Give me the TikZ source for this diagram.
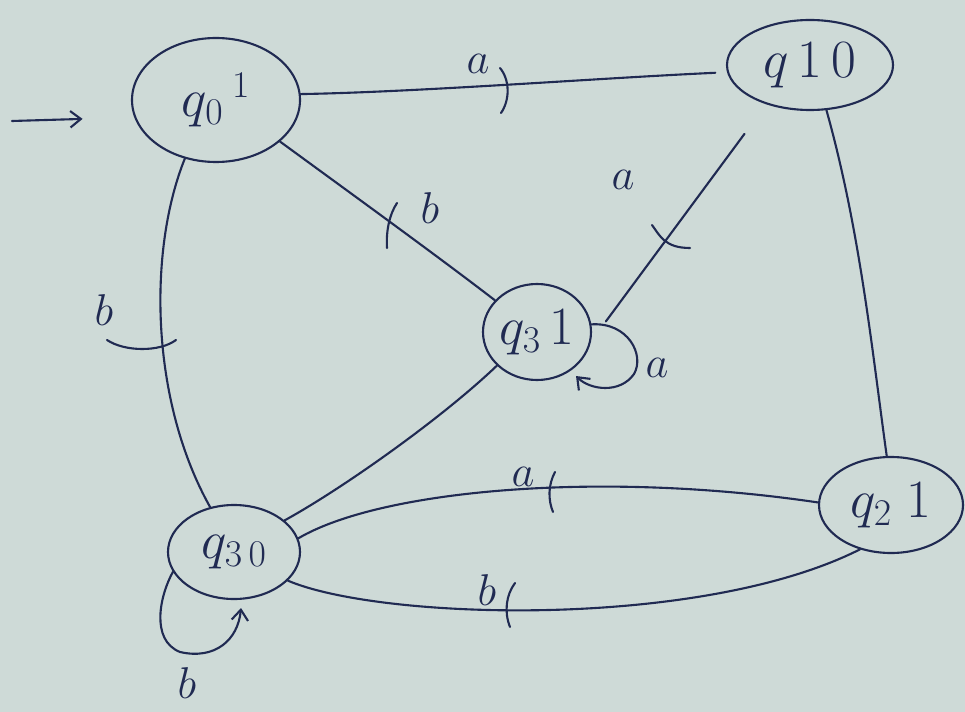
\RequirePackage{fix-cm}
\documentclass[tikz,border=0pt]{standalone}
\usetikzlibrary{shapes.geometric,arrows.meta}
\definecolor{paper}{RGB}{206,218,215}
\definecolor{inkblue}{RGB}{32,42,82}
\begin{document}
\begin{tikzpicture}[x=0.03cm,y=-0.03cm,
  ink/.style={draw=inkblue,line width=1.8pt,line cap=round,line join=round},
  state/.style={ellipse,ink,inner sep=0pt,text=inkblue,font=\fontsize{46}{52}\selectfont},
  lbl/.style={text=inkblue,font=\fontsize{38}{42}\selectfont},
  tip/.style={-{Straight Barb[length=9pt,width=14pt,line width=1.8pt]}}]
% paper
\fill[paper] (0,0) rectangle (965,712);
\useasboundingbox (0,0) rectangle (965,712);

% states (Moore machine: state, output)
\node[state,minimum width=5.04cm,minimum height=3.72cm] (q0)  at (216,100) {$q_0\,{}^{1}$};
\node[state,minimum width=4.98cm,minimum height=2.70cm] (q10) at (810,65)  {$q\,1\,0$};
\node[state,minimum width=3.24cm,minimum height=2.88cm] (q31) at (537,332) {$q_3\,1$};
\node[state,minimum width=4.32cm,minimum height=2.88cm] (q21) at (891,505) {$q_2\;1$};
\node[state,minimum width=3.96cm,minimum height=2.82cm] (q30) at (234,552) {$q_{3\,0}$};

% start arrow
\coordinate (start) at (12,121);
\draw[ink,tip,shorten >=1.55cm] (start) -- (q0.192);

% q0 -- q10 (a)
\draw[ink,shorten >=0.35cm] (q0.4) .. controls (420,92) and (600,78) .. (q10.185);
\draw[ink] (500,68) .. controls (510,80) and (510,100) .. (501,113);
\node[lbl] (la1) at (478,64) {$a$};

% q0 -- q31 (b)
\draw[ink] (q0.-33) .. controls (360,200) and (440,258) .. (q31.143);
\draw[ink] (397,203) .. controls (389,215) and (386,232) .. (387,248);
\node[lbl] (lb1) at (430,208) {$b$};

% q10 -- q31 (a)
\draw[ink,shorten <=1.1cm,shorten >=0.75cm] (q10.-138) -- (q31.-10);
\draw[ink] (652,225) .. controls (660,236) and (665,248) .. (690,248);
\node[lbl] (la2) at (623,180) {$a$};

% q31 self loop (a)
\draw[ink,tip] (q31.8) .. controls (628,322) and (645,355) .. (634,374)
  .. controls (620,394) and (590,390) .. (576,376);
\node[lbl] (la3) at (657,368) {$a$};

% q10 -- q21
\draw[ink] (q10.-70) .. controls (860,230) and (872,350) .. (q21.95);

% q0 -- q30 (b)
\draw[ink] (q0.-118) .. controls (148,250) and (150,400) .. (q30.118);
\draw[ink] (107,340) .. controls (125,352) and (160,352) .. (176,340);
\node[lbl] (lb2) at (104,310) {$b$};

% q31 -- q30
\draw[ink] (q31.-140) .. controls (440,420) and (340,490) .. (q30.32);

% q30 -- q21 upper (a)
\draw[ink] (q30.12) .. controls (380,490) and (600,470) .. (q21.178);
\draw[ink] (555,472) .. controls (548,485) and (548,500) .. (553,512);
\node[lbl] (la4) at (523,477) {$a$};

% q30 -- q21 lower (b)
\draw[ink] (q30.-28) .. controls (380,620) and (700,630) .. (q21.-125);
\draw[ink] (515,583) .. controls (506,595) and (504,612) .. (510,627);
\node[lbl] (lb3) at (487,590) {$b$};

% q30 self loop (b)
\draw[ink,tip] (q30.198) .. controls (160,595) and (150,640) .. (180,652)
  .. controls (215,660) and (238,640) .. (241,608);
\node[lbl] (lb4) at (187,683) {$b$};
\end{tikzpicture}
\end{document}
